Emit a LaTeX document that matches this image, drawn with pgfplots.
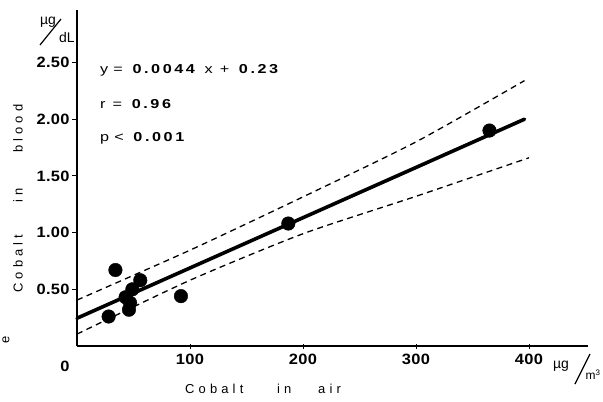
\documentclass[border=0pt]{standalone}
\usepackage{pgfplots}
\pgfplotsset{compat=1.18}
\usepackage{fontspec}
\setmainfont{Liberation Sans}
\newfontfamily\spaced[LetterSpace=32]{Liberation Sans}
\newfontfamily\stat[LetterSpace=20,FakeStretch=1.25]{Liberation Sans}
\newfontfamily\tickf[FakeStretch=1.1,LetterSpace=2]{Liberation Sans}
\begin{document}
\begin{tikzpicture}[x=1bp,y=1bp]
\path[use as bounding box] (-77,-55) rectangle (526,346);
\begin{axis}[
  at={(0,0)}, anchor=south west,
  x=1.13bp, y=113.4bp,
  xmin=0, xmax=452, ymin=0, ymax=2.96,
  axis x line=bottom, axis y line=left,
  axis line style={line width=2.6bp, -},
  xtick={100,200,300,400}, xticklabels={100,200,300,400},
  ytick={0.5,1,1.5,2,2.5}, yticklabels={0.50,1.00,1.50,2.00,2.50},
  /pgf/number format/assume math mode=true,
  tick style={line width=1bp, black},
  major tick length=5bp,
  xtick align=center, ytick align=outside,
  ticklabel style={font=\tickf\bfseries\fontsize{15}{15}\selectfont},
  xticklabel style={yshift=-2bp},
  yticklabel style={xshift=1bp},
  clip=false,
]
\addplot[only marks, mark=*, mark size=6.8bp, black] coordinates {
  (28,0.26) (34,0.67) (43,0.43) (46,0.32) (47,0.38) (49,0.50) (56,0.58)
  (92,0.44) (187,1.08) (365,1.90)
};
\addplot[black, line width=3.6bp, line cap=round] coordinates {(0,0.245) (396,2.00)};
\addplot[black, line width=1.3bp, dash pattern=on 6bp off 4.5bp, smooth, tension=0.4] coordinates {
  (0,0.405) (100,0.845) (200,1.315) (300,1.80) (396,2.34)
};
\addplot[black, line width=1.3bp, dash pattern=on 6bp off 4.5bp, smooth, tension=0.4] coordinates {
  (0,0.105) (100,0.58) (200,0.99) (300,1.32) (400,1.66)
};
\end{axis}
% statistics text
\node[anchor=west, inner sep=0pt] at (23,276) {\stat\fontsize{13}{13}\selectfont y\kern-2bp{} = \textbf{0.0044} x + \textbf{0.23}};
\node[anchor=west, inner sep=0pt] at (23,242) {\stat\fontsize{13}{13}\selectfont r = \textbf{0.96}};
\node[anchor=west, inner sep=0pt] at (23,208) {\stat\fontsize{13}{13}\selectfont p\kern-2bp{} < \textbf{0.001}};
% zero tick label
\node[inner sep=0pt] at (-12,-20) {\tickf\bfseries\fontsize{15}{15}\selectfont 0};
% x label
\node[anchor=west, inner sep=0pt] at (108,-43) {\spaced\fontsize{13}{13}\selectfont Cobalt};
\node[anchor=west, inner sep=0pt] at (200,-43) {\spaced\fontsize{13}{13}\selectfont in};
\node[anchor=west, inner sep=0pt] at (241,-43) {\spaced\fontsize{13}{13}\selectfont air};
% y label
\node[anchor=west, rotate=90, inner sep=0pt] at (-59,53) {\spaced\fontsize{13}{13}\selectfont Cobalt};
\node[anchor=west, rotate=90, inner sep=0pt] at (-59,143) {\spaced\fontsize{13}{13}\selectfont in};
\node[anchor=west, rotate=90, inner sep=0pt] at (-59,193) {\spaced\fontsize{13}{13}\selectfont blood};
\node[rotate=90, inner sep=0pt] at (-71,6) {\fontsize{13}{13}\selectfont e};
% units
\node[inner sep=0pt] at (-29,324) {\fontsize{14}{14}\selectfont µg};
\draw[line width=1.2bp] (-37,301) -- (-16,327);
\node[inner sep=0pt] at (-10,308) {\fontsize{14}{14}\selectfont dL};
\node[inner sep=0pt] at (484,-20) {\fontsize{14}{14}\selectfont µg};
\draw[line width=1.2bp] (498,-38) -- (513,-8);
\node[inner sep=0pt] at (516,-29) {\fontsize{12}{12}\selectfont m\textsuperscript{3}};
\end{tikzpicture}
\end{document}
